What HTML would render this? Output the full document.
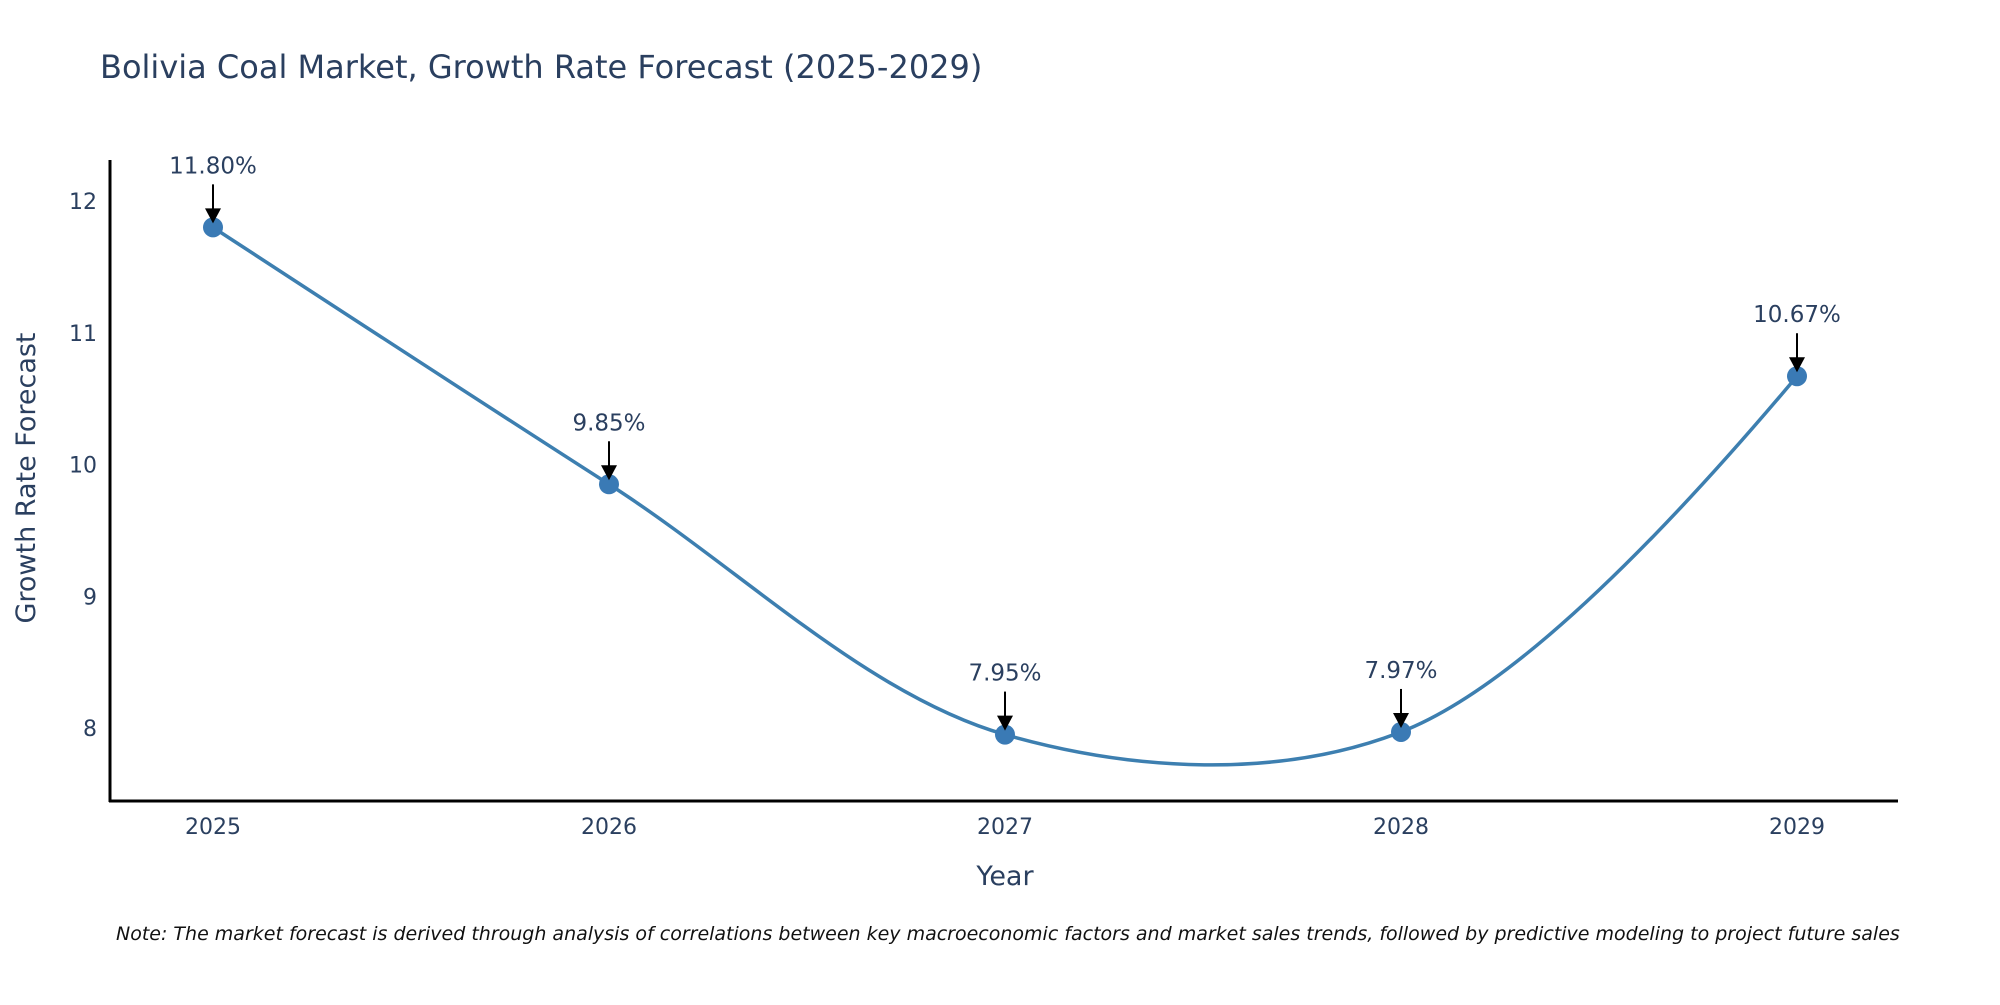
<!DOCTYPE html>
<html><head><meta charset="utf-8"><style>
body{margin:0;background:#fff;}
svg text{font-family:"DejaVu Sans","Liberation Sans",sans-serif;fill:#2a3f5f;}
</style></head><body>
<svg width="2000" height="1000" xmlns="http://www.w3.org/2000/svg">
<rect width="2000" height="1000" fill="#fff"/>
<text x="100" y="78" font-size="32">Bolivia Coal Market, Growth Rate Forecast (2025-2029)</text>
<g id="yt"></g><g id="xt"></g>
<path id="line" fill="none" stroke="#3d7fb0" stroke-width="3.5"/>
<g id="pts"></g><g id="ann"></g>
<line x1="110" y1="160" x2="110" y2="802" stroke="#000" stroke-width="3"/>
<line x1="109" y1="801" x2="1898" y2="801" stroke="#000" stroke-width="3"/>
<text x="1005" y="885" font-size="27" text-anchor="middle">Year</text>
<text transform="translate(35,478) rotate(-90)" font-size="27" text-anchor="middle">Growth Rate Forecast</text>
<text x="116" y="940" font-size="19" font-style="italic" style="fill:#111">Note: The market forecast is derived through analysis of correlations between key macroeconomic factors and market sales trends, followed by predictive modeling to project future sales</text>
</svg>
<script>
const years=[2025,2026,2027,2028,2029];
const values=[11.80,9.85,7.95,7.97,10.67];
const labels=["11.80%","9.85%","7.95%","7.97%","10.67%"];
const yTicks=[8,9,10,11,12];
const NS="http://www.w3.org/2000/svg";
function xs(v){return 213+(v-2025)*396;}
function ys(v){return 728-(v-8)*131.75;}
function mk(t,a,p){const e=document.createElementNS(NS,t);for(const k in a)e.setAttribute(k,a[k]);p.appendChild(e);return e;}
const yt=document.getElementById('yt');
yTicks.forEach(t=>{const e=mk('text',{x:97,y:ys(t)+8,'font-size':22,'text-anchor':'end'},yt);


e.textContent=t;});
const xt=document.getElementById('xt');
years.forEach(t=>{const e=mk('text',{x:xs(t),y:834,'font-size':22,'text-anchor':'middle'},xt);


e.textContent=t;});
const P=years.map((y,i)=>[xs(y),ys(values[i])]);
function tan(a,b,c){const d1x=a[0]-b[0],d1y=a[1]-b[1],d2x=c[0]-b[0],d2y=c[1]-b[1];
const d1a=Math.pow(d1x*d1x+d1y*d1y,0.25),d2a=Math.pow(d2x*d2x+d2y*d2y,0.25);
const nx=(d2a*d2a*d1x-d1a*d1a*d2x),ny=(d2a*d2a*d1y-d1a*d1a*d2y);
const D1=3*d2a*(d1a+d2a),D2=3*d1a*(d1a+d2a);
return [[b[0]+nx/D1,b[1]+ny/D1],[b[0]-nx/D2,b[1]-ny/D2]];}
const T=[];for(let i=1;i<P.length-1;i++)T.push(tan(P[i-1],P[i],P[i+1]));
let d=`M${P[0]} Q${T[0][0]} ${P[1]}`;
for(let i=1;i<P.length-2;i++)d+=` C${T[i-1][1]} ${T[i][0]} ${P[i+1]}`;
d+=` Q${T[T.length-1][1]} ${P[P.length-1]}`;
document.getElementById('line').setAttribute('d',d);
const pts=document.getElementById('pts'),ann=document.getElementById('ann');
P.forEach((p,i)=>{const c=mk('circle',{cx:p[0],cy:p[1],r:10,fill:'#3a7ab5'},pts);


const l=mk('line',{x1:p[0],y1:p[1]-43,x2:p[0],y2:p[1]-14,stroke:'#000','stroke-width':2},ann);


const h=mk('polygon',{points:`${p[0]-8},${p[1]-19} ${p[0]+8},${p[1]-19} ${p[0]},${p[1]-4}`,fill:'#000'},ann);


const t=mk('text',{x:p[0],y:p[1]-54,'font-size':23,'text-anchor':'middle'},ann);


t.textContent=labels[i];});
</script>
</body></html>
